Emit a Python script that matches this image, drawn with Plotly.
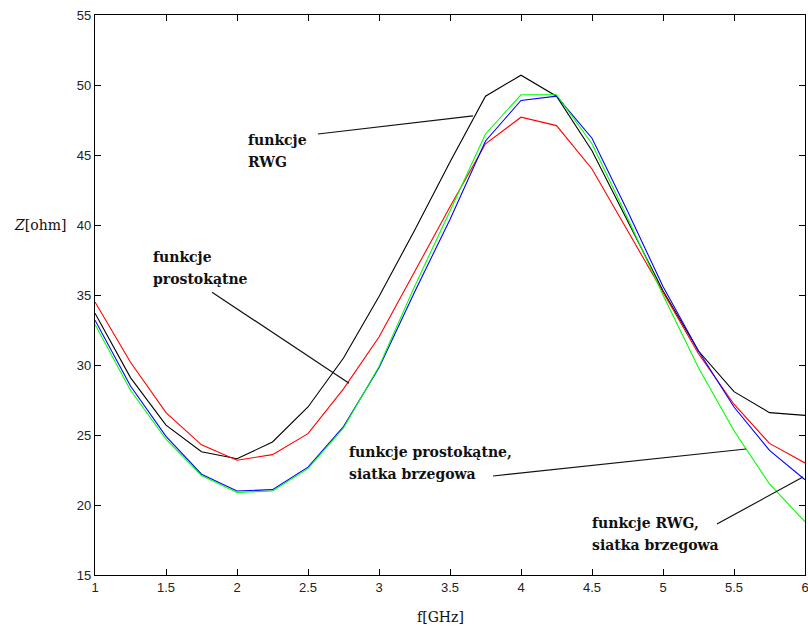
import plotly.graph_objects as go

f_ghz = [1.0, 1.25, 1.5, 1.75, 2.0, 2.25, 2.5, 2.75, 3.0, 3.25, 3.5, 3.75, 4.0,
         4.25, 4.5, 4.75, 5.0, 5.25, 5.5, 5.75, 6.0]
rwg = [33.7, 29.1, 25.7, 23.8, 23.3, 24.5, 27.0, 30.5, 34.9, 39.6, 44.5, 49.2, 50.7,
       49.2, 45.3, 40.3, 35.3, 31.0, 28.1, 26.6, 26.4]
prost = [34.5, 30.2, 26.6, 24.3, 23.2, 23.6, 25.1, 28.3, 32.0, 36.7, 41.3, 45.8, 47.7,
         47.1, 44.0, 39.6, 35.2, 30.8, 27.2, 24.4, 23.0]
rwg_brzeg = [33.2, 28.5, 24.9, 22.2, 21.0, 21.1, 22.7, 25.6, 29.8, 35.2, 40.4, 46.0, 48.9,
             49.2, 46.2, 41.0, 35.6, 31.0, 27.0, 23.9, 21.8]
prost_brzeg = [32.9, 28.2, 24.7, 22.1, 20.9, 21.0, 22.6, 25.5, 29.9, 35.6, 41.0, 46.5, 49.3,
               49.3, 45.8, 40.5, 35.0, 29.8, 25.3, 21.5, 18.8]

series = [
    ("funkcje RWG", rwg, "#000000"),
    ("funkcje prostokątne", prost, "#ff0000"),
    ("funkcje RWG, siatka brzegowa", rwg_brzeg, "#0000ff"),
    ("funkcje prostokątne, siatka brzegowa", prost_brzeg, "#00ff00"),
]

# annotation labels: text lines, text anchor (x, y), leader line (x0, y0, x1, y1)
labels = [
    (["funkcje", "RWG"], 2.063, 45.3, (2.570, 46.5, 3.662, 47.8)),
    (["funkcje", "prostokątne"], 1.394, 36.9, (1.824, 35.2, 2.789, 28.7)),
    (["funkcje prostokątne,", "siatka brzegowa"], 2.775, 23.0, (3.803, 22.07, 5.585, 24.0)),
    (["funkcje RWG,", "siatka brzegowa"], 4.486, 17.9, (5.380, 18.64, 5.986, 22.0)),
]

fig = go.Figure()
for name, vals, col in series:
    fig.add_trace(go.Scatter(x=f_ghz, y=vals, mode="lines", name=name,
                             line=dict(color=col, width=1.1)))

for lines, tx, ty, (x0, y0, x1, y1) in labels:
    for i, txt in enumerate(lines):
        fig.add_annotation(x=tx, y=ty, xref="x", yref="y", text="<b>" + txt + "</b>",
                           showarrow=False, xanchor="left", yanchor="middle", align="left",
                           yshift=11 - 22 * i,
                           font=dict(family="DejaVu Serif", size=14, color="#111111"))
    fig.add_shape(type="line", x0=x0, y0=y0, x1=x1, y1=y1, xref="x", yref="y",
                  line=dict(color="#111111", width=1.2))

fig.add_annotation(x=-0.078, y=0.625, xref="paper", yref="paper", text="<i>Z</i>[ohm]",
                   showarrow=False, xanchor="center", yanchor="middle",
                   font=dict(family="DejaVu Serif", size=14, color="#111111"))
fig.add_annotation(x=0.486, y=-0.075, xref="paper", yref="paper", text="f[GHz]",
                   showarrow=False, xanchor="center", yanchor="middle",
                   font=dict(family="DejaVu Serif", size=14, color="#111111"))

axis_common = dict(showgrid=False, zeroline=False, showline=True, linecolor="#000000",
                   linewidth=1.2, mirror="ticks", ticks="inside", ticklen=6,
                   tickcolor="#000000", ticklabeloverflow="allow", automargin=False,
                   tickfont=dict(family="Liberation Sans", size=13, color="#222222"))
fig.update_xaxes(range=[1, 6], dtick=0.5, tick0=1, **axis_common)
fig.update_yaxes(range=[15, 55], dtick=5, tick0=15, **axis_common)

fig.update_layout(width=808, height=632, showlegend=False,
                  plot_bgcolor="white", paper_bgcolor="white",
                  margin=dict(l=95, r=3, t=15, b=57, autoexpand=False))

fig.write_html("out.html")
